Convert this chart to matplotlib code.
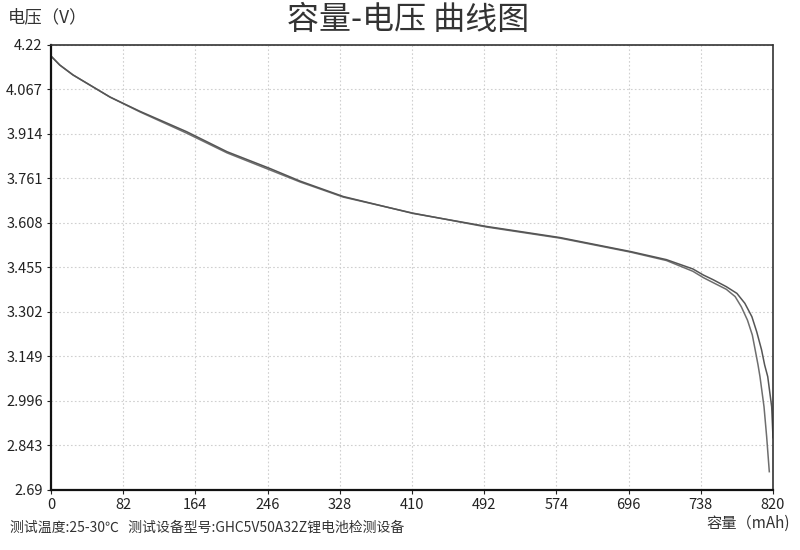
import numpy as np
import matplotlib
matplotlib.use("Agg")
import matplotlib.pyplot as plt

plt.rcParams['font.family'] = ['Noto Sans CJK SC', 'DejaVu Sans']

# 容量 (mAh) / 电压 (V)
cap_a = [0, 10, 25, 67, 101, 154, 200, 249, 283, 332, 411, 495, 578, 658, 699,
         729, 741, 752, 767, 777, 784, 791, 796.5, 800, 803, 805.2, 809.8, 812.8, 815.8]
volt_a = [4.182, 4.151, 4.117, 4.041, 3.990, 3.917, 3.849, 3.790, 3.749, 3.697,
          3.642, 3.594, 3.556, 3.508, 3.479, 3.442, 3.420, 3.403, 3.380, 3.355,
          3.320, 3.274, 3.223, 3.168, 3.120, 3.080, 2.976, 2.873, 2.753]
cap_b = [0, 10, 25, 67, 101, 154, 200, 249, 283, 332, 411, 495, 578, 658, 699,
         729, 741, 752, 767, 779, 788, 796, 801.5, 807, 810.5, 814, 818.5, 820]
volt_b = [4.182, 4.151, 4.117, 4.041, 3.992, 3.922, 3.853, 3.795, 3.752, 3.699,
          3.641, 3.596, 3.558, 3.510, 3.482, 3.450, 3.429, 3.413, 3.389, 3.366,
          3.332, 3.286, 3.234, 3.172, 3.120, 3.080, 2.976, 2.870]

x_ticks = [0, 82, 164, 246, 328, 410, 492, 574, 656, 738, 820]
x_labels = ['0', '82', '164', '246', '328', '410', '492', '574', '696', '738', '820']
y_ticks = [2.69, 2.843, 2.996, 3.149, 3.302, 3.455, 3.608, 3.761, 3.914, 4.067, 4.22]
y_labels = ['2.69', '2.843', '2.996', '3.149', '3.302', '3.455', '3.608', '3.761',
            '3.914', '4.067', '4.22']

fig = plt.figure(figsize=(8, 5.5), dpi=100)
ax = fig.add_axes([51 / 800, 1 - 490 / 550, 722 / 800, 445 / 550])

ax.plot(cap_a, volt_a, color='#6e6e6e', lw=1.1)
ax.plot(cap_b, volt_b, color='#555555', lw=1.1)

ax.set_xlim(0, 820)
ax.set_ylim(2.69, 4.22)
ax.set_xticks(x_ticks)
ax.set_xticklabels(x_labels)
ax.set_yticks(y_ticks)
ax.set_yticklabels(y_labels)
ax.tick_params(labelsize=10.5, colors='#222222', length=3, pad=3)

ax.grid(True, color='#d0d0d0', ls=(0, (1.5, 2)), lw=0.8)
for s in ['left', 'bottom']:
    ax.spines[s].set_linewidth(1.6)
    ax.spines[s].set_color('#111111')
for s in ['top', 'right']:
    ax.spines[s].set_linestyle((0, (1, 1)))
    ax.spines[s].set_linewidth(1.2)
    ax.spines[s].set_color('#333333')

fig.text(0.51, 1 - 20 / 550, '容量-电压 曲线图', ha='center', va='center',
         fontsize=23, color='#333333')
fig.text(8 / 800, 1 - 17 / 550, '电压（V）', ha='left', va='center',
         fontsize=12.5, color='#333333')
fig.text(10 / 800, 1 - 528 / 550, '测试温度:25-30℃   测试设备型号:GHC5V50A32Z锂电池检测设备',
         ha='left', va='center', fontsize=10, color='#333333')
fig.text(790 / 800, 1 - 523 / 550, '容量（mAh)', ha='right', va='center',
         fontsize=11, color='#333333')

fig.savefig('out.png', dpi=100)
